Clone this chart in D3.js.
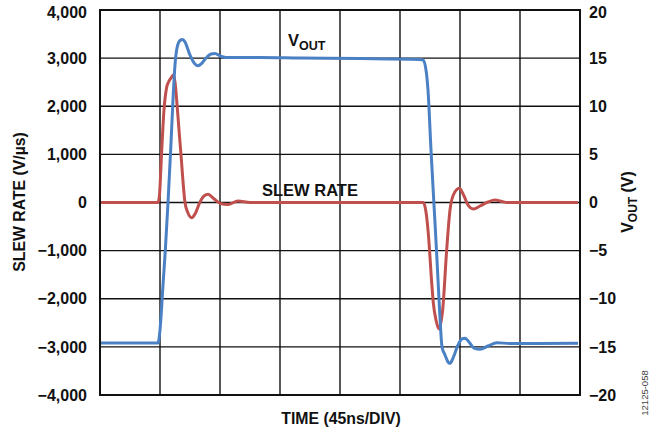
<!DOCTYPE html>
<html>
<head>
<meta charset="utf-8">
<script src="https://cdn.jsdelivr.net/npm/d3@7"></script>
<style>
  html, body { margin: 0; padding: 0; background: #fff; }
  svg { display: block; }
  text { font-family: "Liberation Sans", Arial, sans-serif; font-weight: bold; fill: #111; }
</style>
</head>
<body>
<script>
// ---- data ----
const timeTicks = [0, 45, 90, 135, 180, 225, 270, 315, 360]; // ns, 45ns/div
const slewTicks = [4000, 3000, 2000, 1000, 0, -1000, -2000, -3000, -4000];
const voutTicks = [20, 15, 10, 5, 0, -5, -10, -15, -20];

// VOUT (V) trace
const voutTime = [0, 43.5, 45, 47.25, 49, 51, 53, 54.75, 56.25, 57.75, 60, 62, 63.75, 67.5, 71.25, 73.5, 76.5, 80.25, 83.25, 86.25, 90, 94.5, 120, 150, 195, 240, 242.25, 244.5, 246, 248.25, 250.5, 252.75, 255, 256.5, 258.75, 261, 262.5, 264.75, 268.5, 271.5, 273.75, 276.75, 280.5, 285, 291, 297.75, 307.5, 358.5];
const voutVal = [-14.6, -14.6, -13.25, -8.57, -4.94, 0, 5.45, 10.65, 14.29, 16.05, 16.83, 16.94, 16.68, 15.32, 14.39, 14.21, 14.49, 15.12, 15.43, 15.48, 15.22, 15.06, 15.06, 15.01, 14.96, 14.86, 14.81, 13.77, 11.69, 5.45, -0.26, -5.97, -12.0, -15.01, -15.84, -16.57, -16.71, -16.16, -14.81, -14.18, -14.11, -14.49, -15.12, -15.25, -14.91, -14.57, -14.65, -14.63];

// SLEW RATE (V/µs) trace
const slewTime = [0, 43.5, 44.6, 46.3, 48, 49.9, 51.4, 53.25, 55, 56.25, 57.5, 59.25, 60.75, 63.75, 66, 68.8, 71.25, 75, 78, 81.2, 84.75, 90, 96, 103.5, 112.5, 242.5, 244.5, 246.2, 248.8, 250, 252, 254.25, 255.75, 257, 260, 262.5, 265, 269.5, 273, 276, 280, 285, 291, 296.25, 301.5, 305.25, 358.5];
const slewVal = [0, 0, 156, 1091, 1922, 2379, 2504, 2587, 2650, 2504, 2130, 1507, 987, 0, -218, -316, -239, 10, 135, 170, 94, -17, -42, 31, 0, 0, -197, -634, -1673, -2088, -2442, -2629, -2483, -2234, -987, -156, 156, 295, 135, -52, -135, -73, 10, 52, 21, 0, 0];

// ---- layout ----
const W = 660, H = 435;
const plot = { left: 100, right: 580, top: 10, bottom: 395 };
const fmt = v => (v < 0 ? "\u2212" : "") + d3.format(",")(Math.abs(v));

const svg = d3.select("body").append("svg").attr("width", W).attr("height", H);

const x = d3.scaleLinear().domain([0, 360]).range([plot.left, plot.right]);
const yL = d3.scaleLinear().domain([-4000, 4000]).range([plot.bottom, plot.top]);
const yR = d3.scaleLinear().domain([-20, 20]).range([plot.bottom, plot.top]);

// grid
const grid = svg.append("g");
grid.selectAll("line.v").data(timeTicks.slice(1, -1)).join("line")
  .attr("x1", d => x(d)).attr("x2", d => x(d))
  .attr("y1", plot.top).attr("y2", plot.bottom)
  .attr("stroke", "#111").attr("stroke-width", 1.4);
grid.selectAll("line.h").data(slewTicks.slice(1, -1)).join("line")
  .attr("y1", d => yL(d)).attr("y2", d => yL(d))
  .attr("x1", plot.left).attr("x2", plot.right)
  .attr("stroke", "#111").attr("stroke-width", 1.4);

// axes (labels only, no tick marks)
const axL = d3.axisLeft(yL).tickValues(slewTicks).tickFormat(fmt).tickSize(0).tickPadding(13);
const gL = svg.append("g").attr("transform", `translate(${plot.left},0)`).call(axL);
const axR = d3.axisRight(yR).tickValues(voutTicks).tickFormat(fmt).tickSize(0).tickPadding(9);
const gR = svg.append("g").attr("transform", `translate(${plot.right},0)`).call(axR);
[gL, gR].forEach(g => {
  g.select(".domain").remove();
  g.selectAll("text").attr("font-size", 16).attr("font-family", "'Liberation Sans', Arial, sans-serif").attr("font-weight", "bold").attr("fill", "#111");
});
gL.selectAll(".tick").filter(d => d === 4000).select("text").attr("dy", "0.45em");
gR.selectAll(".tick").filter(d => d === 20).select("text").attr("dy", "0.45em");

// lines
const lineSlew = d3.line().x(d => x(d[0])).y(d => yL(d[1])).curve(d3.curveMonotoneX);
const lineVout = d3.line().x(d => x(d[0])).y(d => yR(d[1])).curve(d3.curveMonotoneX);
svg.append("path").datum(d3.zip(slewTime, slewVal)).attr("d", lineSlew)
  .attr("fill", "none").attr("stroke", "#c0504d").attr("stroke-width", 3).attr("stroke-linejoin", "round");
svg.append("path").datum(d3.zip(voutTime, voutVal)).attr("d", lineVout)
  .attr("fill", "none").attr("stroke", "#4a80c4").attr("stroke-width", 3).attr("stroke-linejoin", "round");

// frame
svg.append("rect").attr("x", plot.left).attr("y", plot.top)
  .attr("width", plot.right - plot.left).attr("height", plot.bottom - plot.top)
  .attr("fill", "none").attr("stroke", "#111").attr("stroke-width", 2);

// in-plot labels
const vl = svg.append("text").attr("x", 288).attr("y", 46).attr("font-size", 16.5);
vl.append("tspan").text("V");
vl.append("tspan").attr("font-size", 12.5).attr("dy", 4).text("OUT");
svg.append("text").attr("x", 310).attr("y", 195.5).attr("text-anchor", "middle").attr("font-size", 16.5).text("SLEW RATE");

// axis titles
svg.append("text").attr("x", 341).attr("y", 424).attr("text-anchor", "middle").attr("font-size", 15.8).text("TIME (45ns/DIV)");
svg.append("text").attr("transform", "translate(25,202) rotate(-90)").attr("text-anchor", "middle").attr("font-size", 15.8).text("SLEW RATE (V/\u00B5s)");
const rt = svg.append("text").attr("transform", "translate(633,202) rotate(-90)").attr("text-anchor", "middle").attr("font-size", 15.8);
rt.append("tspan").text("V");
rt.append("tspan").attr("font-size", 12).attr("dy", 4).text("OUT");
rt.append("tspan").attr("dy", -4).text(" (V)");
svg.append("text").attr("transform", "translate(648,393) rotate(-90)").attr("text-anchor", "middle")
  .attr("font-size", 9.5).attr("font-weight", "normal").style("font-weight", "normal").style("fill", "#444").text("12125-058");
</script>
</body>
</html>
